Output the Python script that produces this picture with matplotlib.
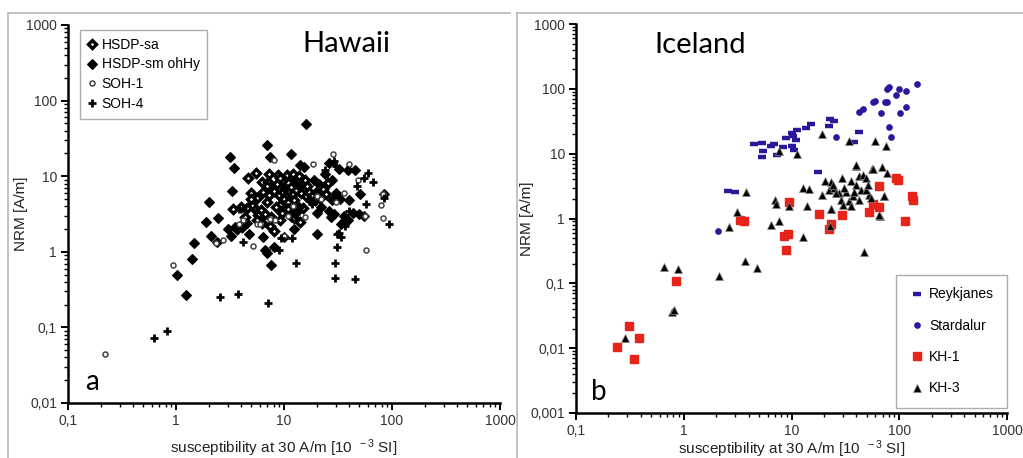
import matplotlib
matplotlib.use("Agg")
import matplotlib.pyplot as plt
from matplotlib.ticker import LogLocator, FuncFormatter, NullFormatter
from matplotlib.lines import Line2D

plt.rcParams['font.family'] = ['Liberation Sans', 'DejaVu Sans']
plt.rcParams['mathtext.fontset'] = 'custom'
plt.rcParams['mathtext.rm'] = 'Liberation Sans'
plt.rcParams['mathtext.it'] = 'Liberation Sans'

# ---------------- Hawaii data ----------------
hsdp_sm_x = [16, 6.9, 3.15, 7.4, 11.6, 3.45, 3.3, 2.0, 1.88, 2.45, 2.1, 1.46, 1.41, 1.03, 1.25,
             7.6, 2.4, 3.0, 3.2, 4.7, 3.5, 3.9, 4.5, 6.45, 6.7, 6.9, 8.0, 9.9, 20, 12.3, 29, 28,
             24, 15.2, 39, 45, 51, 85, 40, 50, 39, 34, 27, 26, 22, 20.4, 17.6, 13.7, 12.7, 14.2,
             20.4, 21, 19, 28, 30, 33, 36, 44, 55, 32, 26, 14]
hsdp_sm_y = [49, 25.6, 17.9, 17.9, 19.5, 12.8, 6.45, 4.6, 2.5, 2.8, 1.6, 1.3, 0.8, 0.5, 0.27,
             0.66, 1.34, 2.0, 1.6, 1.7, 2.1, 2.2, 2.4, 1.55, 1.05, 0.95, 1.16, 1.55, 1.7, 2.0, 3.2, 4.8,
             10.7, 13.2, 11.9, 11.9, 5.8, 5.8, 4.8, 3.2, 2.6, 2.3, 2.85, 3.5, 3.9, 3.3, 4.7, 3.9, 3.2, 7.1,
             6.45, 7.8, 9.0, 8.8, 6.0, 5.0, 3.0, 3.3, 3.0, 12.5, 15, 14]
hsdp_sa_x = [4.6, 5.5, 6.2, 7.3, 7.1, 8.8, 9.5, 10.7, 11.9, 12.8, 13.5, 5.0, 5.6, 6.4, 7.2, 8.1,
             9.0, 9.8, 10.5, 11.2, 12.0, 13.0, 14.5, 16.0, 17.0, 10.0, 11.0, 12.5, 9.2, 8.4, 7.0,
             6.1, 5.3, 5.8, 6.6, 7.6, 9.6, 10.8, 11.6, 13.2, 15.0, 12.5, 14.0, 5.1, 4.9, 4.5, 6.9,
             8.6, 10.3, 11.7, 9.2, 12.2, 15.5, 13.8, 16.5, 18.0, 19.5, 21.5, 23.0, 24.5, 25.5, 6.3,
             7.4, 8.0, 5.6, 4.4, 9.2, 4.1, 3.7, 3.4, 4.0]
hsdp_sa_y = [9.6, 11, 8.5, 10.7, 8.3, 10.5, 8.7, 10.4, 9.5, 8.5, 8.8, 6.0, 5.1, 6.2, 5.6, 6.3,
             5.7, 6.1, 5.5, 6.4, 5.9, 6.6, 6.0, 5.5, 6.2, 5.0, 4.5, 4.8, 4.2, 3.9, 4.5,
             3.6, 3.8, 3.1, 3.2, 2.9, 3.3, 3.7, 3.0, 3.5, 3.8, 2.8, 2.5, 4.2, 5.0, 3.8, 7.5,
             7.8, 7.0, 7.2, 9.6, 10.8, 9.0, 10.2, 7.5, 5.4, 4.8, 5.2, 6.8, 5.8, 8.2, 2.4,
             2.2, 1.9, 2.6, 2.9, 2.6, 2.1, 2.0, 3.7, 3.9]
soh1_x = [0.22, 0.94, 5.2, 2.35, 5.6, 6.0, 8.1, 28.5, 18.6, 40, 83, 79, 83, 57, 4.2, 3.8,
          7.4, 11, 12.2, 15.8, 20, 22, 48, 56, 36, 30, 10, 8.2, 2.7]
soh1_y = [0.044, 0.67, 1.2, 1.3, 2.3, 2.3, 16.5, 19.8, 14.6, 14.6, 5.8, 4.2, 2.8, 1.06, 2.6, 2.3,
          2.7, 3.0, 4.0, 2.9, 5.5, 5.0, 9.0, 3.0, 6.0, 4.5, 1.6, 2.6, 1.45]
soh4_x = [0.63, 0.83, 2.55, 3.75, 7.1, 12.9, 29.6, 29.6, 45.5, 31, 32, 34, 94, 85, 66, 60, 55,
          57, 47, 38, 29, 30, 11.8, 9.0, 9.4, 4.2, 3.8, 4.2, 12, 13, 10, 20, 24, 18, 37, 40, 31]
soh4_y = [0.073, 0.09, 0.254, 0.28, 0.21, 0.71, 0.71, 0.45, 0.44, 1.16, 1.8, 1.55, 2.35, 5.2, 8.5,
          11, 9.5, 4.3, 7.5, 12, 16, 13.5, 1.53, 1.06, 1.5, 1.36, 3.7, 3.8, 9, 8, 7, 8, 12, 4.3,
          2.2, 3.5, 1.73]

# ---------------- Iceland data ----------------
reyk_x = [4.5, 5.3, 6.4, 6.9, 5.4, 5.3, 7.3, 8.4, 8.8, 10, 10.4, 10.9, 10, 10.6, 11.2, 13.5,
          15.2, 22.8, 25, 22.4, 42.6, 38, 17.8, 2.6, 3.0]
reyk_y = [14.1, 14.8, 12.9, 14.2, 11.1, 8.8, 9.4, 12.5, 17.6, 21, 18.5, 16, 13.3, 11.5, 22.8, 25.3,
          28.7, 34, 32, 26.3, 21.5, 14.9, 5.2, 2.7, 2.57]
star_x = [2.08, 26, 42.6, 46.5, 57.6, 60, 67.6, 74, 77, 77, 81, 100, 93, 115, 147, 115, 102, 81, 84]
star_y = [0.65, 17.8, 44.7, 48.7, 62, 65, 42.3, 61.7, 61.7, 99, 105, 101, 81, 91, 120, 52, 42, 25.8, 17.8]
kh1_x = [0.24, 0.31, 0.344, 0.386, 0.855, 3.35, 3.6, 9.4, 8.6, 9.25, 8.8, 18.1, 23.2, 22.5, 29.4,
         52.6, 56.6, 64.3, 64.3, 93, 98, 132, 135, 114]
kh1_y = [0.0105, 0.022, 0.0069, 0.0144, 0.109, 0.94, 0.92, 1.78, 0.53, 0.58, 0.33, 1.19, 0.81, 0.68,
         1.15, 1.25, 1.7, 3.14, 1.51, 4.2, 3.9, 2.2, 1.96, 0.93]
kh3_x = [0.284, 0.65, 0.89, 0.77, 0.81, 2.12, 2.63, 3.14, 3.8, 3.67, 4.78, 6.4, 7.6, 7.0, 7.2, 9.4,
         7.6, 11.2, 12.7, 12.9, 14.5, 13.9, 19.2, 34.4, 59.6, 76, 46.7, 66, 22.8, 23.5, 39.8, 69, 56,
         77, 72.5, 39.7, 29.5, 56.5, 20.6, 23.3, 19.2, 22.4, 25, 35.6, 42.6, 45.6, 49, 39.7, 44, 32,
         27.7, 28.8, 34.5, 37, 42.6, 52.6, 54.5, 72, 23.3, 30, 35.6, 65, 24.5, 26, 31, 38, 49, 51]
kh3_y = [0.0142, 0.18, 0.168, 0.036, 0.039, 0.13, 0.74, 1.27, 2.57, 0.22, 0.17, 0.8, 0.9, 1.96, 1.68,
         1.58, 10.8, 10, 0.52, 2.96, 2.86, 1.55, 20, 15.5, 15.5, 13, 0.3, 1.11, 0.76, 1.41, 6.5, 6.2,
         5.7, 5.0, 2.2, 6.6, 4.2, 5.7, 3.75, 3.6, 2.34, 2.8, 2.96, 3.75, 4.5, 4.7, 4.2, 3.3, 2.8, 2.6,
         2.5, 1.96, 1.85, 2.2, 1.9, 2.34, 2.08, 2.2, 1.41, 1.64, 1.58, 1.15, 3.3, 2.5, 2.96, 2.6, 2.8, 3.3]

x_ticks = [0.1, 1, 10, 100, 1000]
hawaii_y_ticks = [0.01, 0.1, 1, 10, 100, 1000]
iceland_y_ticks = [0.001, 0.01, 0.1, 1, 10, 100, 1000]

W, H = 1023, 458
fig = plt.figure(figsize=(W / 100, H / 100), dpi=100)
fig.patch.set_facecolor('white')

# panel frames
frame_col = '#b8b8b8'
fig.add_artist(Line2D([8 / W, 8 / W], [0, 1 - 13 / H], transform=fig.transFigure, color=frame_col, lw=1.2))
fig.add_artist(Line2D([8 / W, 510 / W], [1 - 13 / H, 1 - 13 / H], transform=fig.transFigure, color=frame_col, lw=1.2))
fig.add_artist(Line2D([517 / W, 517 / W], [0, 1 - 13 / H], transform=fig.transFigure, color=frame_col, lw=1.2))
fig.add_artist(Line2D([517 / W, 1], [1 - 13 / H, 1 - 13 / H], transform=fig.transFigure, color=frame_col, lw=1.2))


def fmt(v, pos):
    s = f"{v:g}"
    return s.replace('.', ',')


def style_axes(ax, yticks, xlabelpad):
    ax.set_xscale('log')
    ax.set_yscale('log')
    ax.set_xlim(0.1, 1000)
    ax.set_ylim(yticks[0], yticks[-1])
    for side in ['top', 'right']:
        ax.spines[side].set_visible(False)
    for side in ['left', 'bottom']:
        ax.spines[side].set_linewidth(1.8)
    ax.set_xticks(x_ticks)
    ax.set_yticks(yticks)
    ax.xaxis.set_major_formatter(FuncFormatter(fmt))
    ax.yaxis.set_major_formatter(FuncFormatter(fmt))
    ax.xaxis.set_minor_locator(LogLocator(base=10, subs=range(2, 10), numticks=20))
    ax.yaxis.set_minor_locator(LogLocator(base=10, subs=range(2, 10), numticks=20))
    ax.xaxis.set_minor_formatter(NullFormatter())
    ax.yaxis.set_minor_formatter(NullFormatter())
    ax.tick_params(which='major', direction='out', length=5, width=1.4, labelsize=10,
                   labelcolor='#333333', pad=3)
    ax.tick_params(which='minor', direction='out', length=3, width=1.0)
    ax.set_ylabel('NRM [A/m]', fontsize=11, color='#222222')
    ax.set_xlabel(r'susceptibility at 30 A/m [10$^{\ \ -3}$ SI]', fontsize=11, color='#222222',
                  labelpad=xlabelpad)


# ---------------- Hawaii ----------------
ax1 = fig.add_axes([68 / W, 1 - 403 / H, 432 / W, 378 / H])
style_axes(ax1, hawaii_y_ticks, 7)
ax1.plot(hsdp_sa_x, hsdp_sa_y, ls='none', marker='D', ms=4.0, mfc='white', mec='black', mew=2.4,
         label='HSDP-sa')
ax1.plot(hsdp_sm_x, hsdp_sm_y, ls='none', marker='D', ms=4.8, mfc='black', mec='black', mew=0.8,
         label='HSDP-sm ohHy')
ax1.plot(soh1_x, soh1_y, ls='none', marker='o', ms=3.6, mfc='white', mec='#444444', mew=1.1,
         label='SOH-1')
ax1.plot(soh4_x, soh4_y, ls='none', marker='+', ms=6, mec='black', mew=2.0, label='SOH-4')
leg1 = ax1.legend(loc='upper left', bbox_to_anchor=(0.028, 0.987), borderaxespad=0, frameon=True,
                  fancybox=False, edgecolor='#999999', fontsize=10, handlelength=0.6,
                  handletextpad=0.4, labelspacing=0.42, borderpad=0.55, markerscale=1.0)
leg1.get_frame().set_linewidth(1.0)
ax1.text(0.645, 0.985, 'Hawaii', transform=ax1.transAxes, fontsize=21, ha='center', va='top',
         family='Lato')
ax1.text(0.04, 0.02, 'a', transform=ax1.transAxes, fontsize=20, ha='left', va='bottom', family='Lato')
ax1.yaxis.set_label_coords(-0.093, 0.5)

# ---------------- Iceland ----------------
ax2 = fig.add_axes([576 / W, 1 - 413 / H, 431 / W, 389 / H])
style_axes(ax2, iceland_y_ticks, 0)
blue = '#2a189a'
ax2.plot(reyk_x, reyk_y, ls='none', marker='_', ms=6, mec=blue, mew=3.2, label='Reykjanes')
ax2.plot(star_x, star_y, ls='none', marker='o', ms=3.8, mfc=blue, mec=blue, label='Stardalur')
ax2.plot(kh1_x, kh1_y, ls='none', marker='s', ms=5.8, mfc='#e8231a', mec='#e8231a', label='KH-1')
ax2.plot(kh3_x, kh3_y, ls='none', marker='^', ms=6.2, mfc='black', mec='#888888', mew=0.5, label='KH-3')
leg2 = ax2.legend(loc='upper left', bbox_to_anchor=(0.742, 0.355), borderaxespad=0, frameon=True,
                  fancybox=False, edgecolor='#999999', fontsize=10, handlelength=1.3,
                  handletextpad=0.2, labelspacing=1.25, borderpad=0.9)
leg2.get_frame().set_linewidth(1.0)
ax2.text(0.183, 0.98, 'Iceland', transform=ax2.transAxes, fontsize=21, ha='left', va='top',
         family='Lato')
ax2.text(0.035, 0.02, 'b', transform=ax2.transAxes, fontsize=20, ha='left', va='bottom', family='Lato')
ax2.yaxis.set_label_coords(-0.097, 0.5)

fig.savefig('out.png', dpi=100, facecolor='white')
